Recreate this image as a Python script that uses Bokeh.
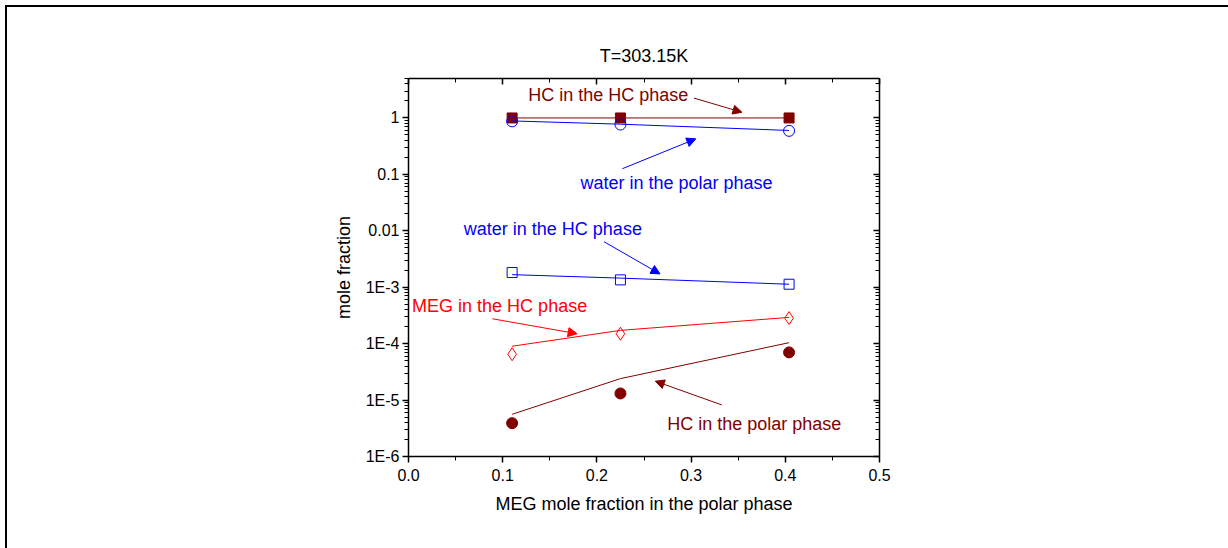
from bokeh.plotting import figure
from bokeh.models import (LinearAxis, LogAxis, FixedTicker, Range1d, Label, Arrow,
                          NormalHead, Div)
from bokeh.embed import file_html
from bokeh.resources import INLINE

# ---------------- data ----------------
meg_x = [0.11, 0.225, 0.404]

hc_in_hc = [1.0, 1.0, 1.0]
hc_in_hc_fit = [1.0, 1.0, 1.0]

water_polar = [0.87, 0.765, 0.59]
water_polar_fit = [0.885, 0.775, 0.60]

water_hc = [1.82e-3, 1.35e-3, 1.13e-3]
water_hc_fit = [1.67e-3, 1.45e-3, 1.13e-3]

meg_hc = [6.5e-5, 1.5e-4, 2.84e-4]
meg_hc_fit = [9.0e-5, 1.72e-4, 2.92e-4]

hc_polar = [3.9e-6, 1.31e-5, 7.0e-5]
hc_polar_fit = [5.6e-6, 2.4e-5, 1.04e-4]

x_ticks = [0.0, 0.1, 0.2, 0.3, 0.4, 0.5]
x_tick_labels = ["0.0", "0.1", "0.2", "0.3", "0.4", "0.5"]
x_minor = [0.05, 0.15, 0.25, 0.35, 0.45]
y_ticks = [1e-6, 1e-5, 1e-4, 1e-3, 0.01, 0.1, 1.0]
y_tick_labels = ["1E-6", "1E-5", "1E-4", "1E-3", "0.01", "0.1", "1"]
y_minor = [k * 10.0 ** d for d in range(-6, 1) for k in range(2, 10) if k * 10.0 ** d <= 5]

title_text = "T=303.15K"
x_label = "MEG mole fraction in the polar phase"
y_label = "mole fraction"

DARKRED = "#800000"
BLUE = "#0000FF"
RED = "#FF0000"
FONT = "Liberation Sans"

# ---------------- figure ----------------
p = figure(width=1228, height=522, output_backend="svg", toolbar_location=None,
           x_range=Range1d(0, 0.5), y_range=Range1d(1e-6, 5), y_axis_type="log",
           min_border_left=408, min_border_right=349, min_border_top=78,
           min_border_bottom=66)
p.outline_line_color = None
p.xgrid.visible = False
p.ygrid.visible = False
p.background_fill_color = "white"
p.border_fill_color = "white"

p.title.text = title_text
p.title.align = "center"
p.title.text_font = FONT
p.title.text_font_size = "18px"
p.title.text_font_style = "normal"
p.title.text_color = "black"
p.title.standoff = 25

xt = FixedTicker(ticks=x_ticks, minor_ticks=x_minor)
yt = FixedTicker(ticks=y_ticks, minor_ticks=y_minor)


def style(ax, outward):
    ax.axis_line_width = 1.5
    ax.major_tick_line_width = 1.5
    ax.minor_tick_line_width = 1
    if outward:
        ax.major_tick_out, ax.major_tick_in = 6, 0
        ax.minor_tick_out, ax.minor_tick_in = 4, 0
    else:
        ax.major_tick_out, ax.major_tick_in = 0, 6
        ax.minor_tick_out, ax.minor_tick_in = 0, 4
    ax.major_label_text_font = FONT
    ax.major_label_text_font_size = "16px"
    ax.major_label_text_color = "black"
    ax.axis_label_text_font = FONT
    ax.axis_label_text_font_size = "18px"
    ax.axis_label_text_font_style = "normal"
    ax.axis_label_text_color = "black"


xa = p.xaxis[0]
xa.ticker = xt
xa.major_label_overrides = {t: l for t, l in zip(x_ticks, x_tick_labels)}
xa.axis_label = x_label
style(xa, True)
xa.major_label_standoff = 6
xa.axis_label_standoff = 10

ya = p.yaxis[0]
ya.ticker = yt
ya.major_label_overrides = {t: l for t, l in zip(y_ticks, y_tick_labels)}
ya.axis_label = y_label
style(ya, True)
ya.major_label_standoff = 3
ya.axis_label_standoff = 9

top = LinearAxis(ticker=xt)
style(top, False)
top.major_label_text_color = None
top.major_label_text_font_size = "0px"
top.major_label_standoff = 0
p.add_layout(top, "above")

right = LogAxis(ticker=yt)
style(right, False)
right.major_label_text_color = None
right.major_label_text_font_size = "0px"
right.major_label_standoff = 0
p.add_layout(right, "right")

# ---------------- series ----------------
p.line(meg_x, hc_in_hc_fit, line_color=DARKRED, line_width=1)
p.scatter(meg_x, hc_in_hc, marker="square", size=10, fill_color=DARKRED, line_color=DARKRED)

p.line(meg_x, water_polar_fit, line_color=BLUE, line_width=1)
p.scatter(meg_x, water_polar, marker="circle", size=11, fill_color=None, line_color=BLUE, line_width=1)

p.line(meg_x, water_hc_fit, line_color=BLUE, line_width=1)
p.scatter(meg_x, water_hc, marker="square", size=10, fill_color=None, line_color=BLUE, line_width=1)

p.line(meg_x, meg_hc_fit, line_color=RED, line_width=1)
p.scatter(meg_x, meg_hc, marker="diamond", size=13, fill_color=None, line_color=RED, line_width=1)

p.line(meg_x, hc_polar_fit, line_color=DARKRED, line_width=1)
p.scatter(meg_x, hc_polar, marker="circle", size=11, fill_color=DARKRED, line_color=DARKRED)

# ---------------- annotations ----------------
notes = [
    ("HC in the HC phase", 0.127, 2.55, DARKRED, (0.303, 2.25, 0.354, 1.26)),
    ("water in the polar phase", 0.1826, 0.0703, BLUE, (0.227, 0.126, 0.305, 0.426)),
    ("water in the HC phase", 0.0587, 0.0106, BLUE, (0.2076, 6.4e-3, 0.267, 1.72e-3)),
    ("MEG in the HC phase", 0.0038, 4.69e-4, RED, (0.089, 2.76e-4, 0.179, 1.5e-4)),
    ("HC in the polar phase", 0.2746, 3.82e-6, DARKRED, (0.3326, 8.2e-6, 0.262, 2.16e-5)),
]
for txt, lx, ly, c, (xs, ys, xe, ye) in notes:
    p.add_layout(Label(x=lx, y=ly, text=txt, text_align="left", text_baseline="middle",
                       text_font=FONT, text_font_size="18px", text_color=c))
    p.add_layout(Arrow(x_start=xs, y_start=ys, x_end=xe, y_end=ye, line_color=c,
                       line_width=1,
                       end=NormalHead(size=9, fill_color=c, line_color=c, line_width=1)))

# page frame lines (top and left edges of the surrounding box)
frame_lines = Div(width=0, height=0,
                  styles={"position": "fixed", "left": "0px", "top": "0px"},
                  text=(
    '<div style="position:fixed;left:5px;top:5px;width:1223px;height:2px;'
    'background:black;pointer-events:none"></div>'
    '<div style="position:fixed;left:5px;top:5px;width:2px;height:543px;'
    'background:black;pointer-events:none"></div>'))

open("out.html", "w").write(file_html([p, frame_lines], INLINE))
